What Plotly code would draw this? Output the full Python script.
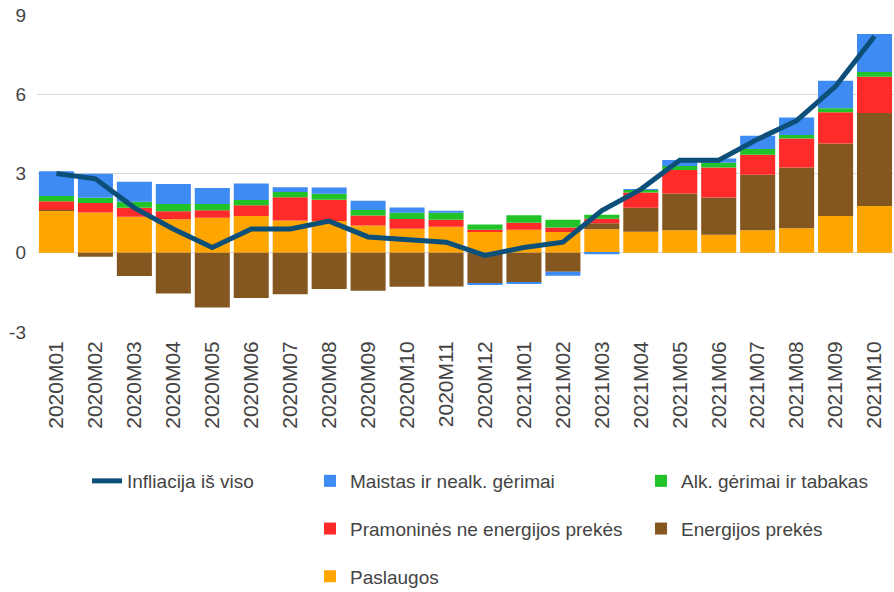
import plotly.graph_objects as go

months = ["2020M01","2020M02","2020M03","2020M04","2020M05","2020M06","2020M07","2020M08",
          "2020M09","2020M10","2020M11","2020M12","2021M01","2021M02","2021M03","2021M04",
          "2021M05","2021M06","2021M07","2021M08","2021M09","2021M10"]

paslaugos = [1.60,1.52,1.36,1.27,1.33,1.39,1.22,1.20,1.03,0.91,0.98,0.82,0.87,0.79,0.89,0.80,
             0.85,0.68,0.85,0.93,1.39,1.77]
energijos = [0.03,-0.15,-0.88,-1.54,-2.07,-1.71,-1.57,-1.37,-1.44,-1.29,-1.28,-1.18,-1.11,-0.72,
             0.23,0.90,1.39,1.41,2.10,2.30,2.75,3.52]
pramonines = [0.32,0.36,0.34,0.30,0.28,0.41,0.88,0.81,0.38,0.37,0.27,0.05,0.27,0.17,0.17,0.58,
              0.89,1.14,0.76,1.10,1.18,1.37]
alkoholis = [0.20,0.20,0.23,0.28,0.24,0.20,0.20,0.22,0.21,0.23,0.26,0.20,0.28,0.29,0.15,0.10,
             0.15,0.18,0.22,0.13,0.15,0.18]
maistas = [0.94,0.91,0.76,0.75,0.60,0.62,0.18,0.24,0.35,0.20,0.08,-0.03,-0.06,-0.15,-0.06,0.02,
           0.23,0.16,0.50,0.66,1.04,1.44]
infliacija = [3.0,2.8,1.7,0.9,0.2,0.9,0.9,1.2,0.6,0.5,0.4,-0.1,0.2,0.4,1.6,2.4,
              3.5,3.5,4.3,5.0,6.3,8.2]
y_ticks = [-3, 0, 3, 6, 9]
y_tick_labels = ["-3", "0", "3", "6", "9"]

FONT = "Liberation Sans, Arial, sans-serif"
W, H = 894, 592

fig = go.Figure()

bar_series = [
    ("Paslaugos", paslaugos, "#ffa500", "legend2", 3),
    ("Energijos prekės", energijos, "#845720", "legend3", 2),
    ("Pramoninės ne energijos prekės", pramonines, "#ff2a2a", "legend2", 2),
    ("Alk. gėrimai ir tabakas", alkoholis, "#22c328", "legend3", 1),
    ("Maistas ir nealk. gėrimai", maistas, "#3d8bf3", "legend2", 1),
]
for name, vals, color, leg, rank in bar_series:
    fig.add_trace(go.Bar(
        x=months, y=vals, name=name, marker=dict(color=color, line=dict(width=0)),
        legend=leg, legendrank=rank, legendgroup=name, showlegend=True,
    ))

fig.add_trace(go.Scatter(
    x=months, y=infliacija, name="Infliacija iš viso", mode="lines",
    line=dict(color="#0c5079", width=5), legend="legend", legendgroup="infl",
    showlegend=True,
))

leg_common = dict(
    orientation="v", yanchor="top", xanchor="left",
    xref="container", yref="container",
    font=dict(family=FONT, size=19, color="#444"),
    bgcolor="rgba(0,0,0,0)", tracegroupgap=20, itemwidth=30,
)
LEG_TOP = 1 - 462 / H

fig.update_layout(
    width=W, height=H,
    margin=dict(l=37, r=0, t=15, b=260, autoexpand=False),
    paper_bgcolor="white", plot_bgcolor="white",
    showlegend=True,
    barmode="relative", bargap=0.1,
    font=dict(family=FONT, size=19, color="#444"),
    xaxis=dict(
        type="category", tickangle=-90, showgrid=False, ticks="",
        tickfont=dict(family=FONT, size=21, color="#444"), ticklabelstandoff=4,
        automargin=False,
    ),
    yaxis=dict(
        range=[-3, 9.001], tickvals=y_ticks, ticktext=y_tick_labels,
        showgrid=True, gridcolor="#d9d9d9",
        zeroline=True, zerolinecolor="#d9d9d9", zerolinewidth=1,
        tickfont=dict(family=FONT, size=19, color="#444"), ticklabelstandoff=10,
        ticklabeloverflow="allow", automargin=False,
    ),
    legend=dict(x=87 / W, y=LEG_TOP, **leg_common),
    legend2=dict(x=310 / W, y=LEG_TOP, **leg_common),
    legend3=dict(x=641 / W, y=LEG_TOP, **leg_common),
)

fig.write_html(
    "out.html",
    config={"displayModeBar": False},
    post_script="document.body.style.margin='0';document.body.style.overflow='hidden';",
)
